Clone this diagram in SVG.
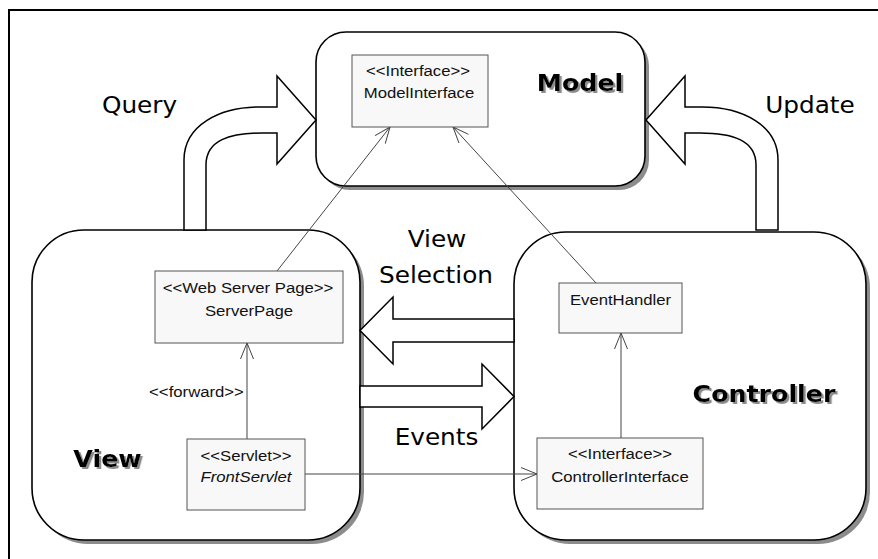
<svg xmlns="http://www.w3.org/2000/svg" width="878" height="559" viewBox="0 0 878 559">
<style>
.frame{fill:none;stroke:#000;stroke-width:2}
.shadow{fill:#8c8c8c;stroke:none}
.cont{fill:#fff;stroke:#000;stroke-width:1.6}
.cls{fill:#f8f8f8;stroke:#555;stroke-width:1}
.block{fill:#fff;stroke:#000;stroke-width:1.5;stroke-linejoin:miter}
.thin{fill:none;stroke:#444;stroke-width:1}
.sm{font-family:"Liberation Sans",Arial,sans-serif;font-size:15.2px;fill:#111;text-anchor:middle}
.it{font-style:italic}
.big{font-family:"DejaVu Sans",Verdana,sans-serif;font-size:22.5px;fill:#000;text-anchor:middle}
.bold{font-family:"DejaVu Sans",Verdana,sans-serif;font-size:23px;font-weight:bold;text-anchor:middle;fill:#000;filter:url(#ts)}
</style>
<defs>
<marker id="open" viewBox="0 0 18 14" refX="17" refY="7" markerWidth="18" markerHeight="14" markerUnits="userSpaceOnUse" orient="auto">
<path d="M1,0.5 L17,7 L1,13.5" fill="none" stroke="#444" stroke-width="1"/>
</marker>
<filter id="ts" x="-10%" y="-20%" width="130%" height="150%">
<feDropShadow dx="2" dy="2" stdDeviation="0.4" flood-color="#8c8c8c" flood-opacity="1"/>
</filter>
</defs>
<rect width="878" height="559" fill="#fff"/>
<path class="frame" d="M9,559 L9,10 L878,10"/>

<g id="model">
<rect class="shadow" x="320" y="36" width="329" height="154" rx="30"/>
<rect class="cont" x="316" y="32" width="329" height="154" rx="30"/>
<text class="bold" transform="translate(580,91) scale(1.1,1)">Model</text>
</g>
<g id="view">
<rect class="shadow" x="36" y="234" width="328" height="310" rx="52"/>
<rect class="cont" x="32" y="230" width="328" height="310" rx="52"/>
<text class="bold" transform="translate(107.5,467) scale(1.1,1)">View</text>
</g>
<g id="controller">
<rect class="shadow" x="518" y="236" width="352" height="308" rx="52"/>
<rect class="cont" x="514" y="232" width="352" height="308" rx="52"/>
<text class="bold" transform="translate(764,402) scale(1.1,1)">Controller</text>
</g>

<g id="connectors">
<path id="query" class="block" d="M184,230 L184,160 C184,125 220,107 260,107 L277,107 L277,76 L316,120 L277,164 L277,133 L262,133 C230,133 206,140 206,165 L206,230 Z"/>
<path id="update" class="block" d="M778,230 L778,160 C778,125 742,107 702,107 L685,107 L685,76 L646,120 L685,164 L685,133 L700,133 C732,133 756,140 756,165 L756,230 Z"/>
<path id="viewsel" class="block" d="M514,319 L393,319 L393,297 L360,330.5 L393,364 L393,342 L514,342 Z"/>
<path id="events" class="block" d="M360,386 L482,386 L482,364 L514,396.5 L482,429 L482,407 L360,407 Z"/>
<line class="thin" x1="277" y1="271" x2="390" y2="127" marker-end="url(#open)"/>
<line class="thin" x1="596" y1="283" x2="453" y2="127" marker-end="url(#open)"/>
<line class="thin" x1="247" y1="439" x2="247" y2="343" marker-end="url(#open)"/>
<line class="thin" x1="621" y1="438" x2="621" y2="333" marker-end="url(#open)"/>
<line class="thin" x1="305" y1="474" x2="537" y2="474" marker-end="url(#open)"/>
<text class="sm" transform="translate(196.5,397) scale(1.1,1)">&lt;&lt;forward&gt;&gt;</text>
<text class="big" transform="translate(139.5,113) scale(1.1,1)">Query</text>
<text class="big" transform="translate(810,113) scale(1.1,1)">Update</text>
<text class="big" transform="translate(437,247) scale(1.1,1)">View</text>
<text class="big" transform="translate(436,283) scale(1.1,1)">Selection</text>
<text class="big" transform="translate(436.5,445) scale(1.1,1)">Events</text>
</g>

<g id="modelinterface">
<rect class="cls" x="352" y="55" width="136" height="72"/>
<text class="sm" transform="translate(418,76) scale(1.1,1)">&lt;&lt;Interface&gt;&gt;</text>
<text class="sm" transform="translate(419,98) scale(1.1,1)">ModelInterface</text>
</g>
<g id="serverpage">
<rect class="cls" x="155" y="271" width="188" height="72"/>
<text class="sm" transform="translate(248,293) scale(1.1,1)">&lt;&lt;Web Server Page&gt;&gt;</text>
<text class="sm" transform="translate(249,316) scale(1.1,1)">ServerPage</text>
</g>
<g id="frontservlet">
<rect class="cls" x="187" y="439" width="118" height="71"/>
<text class="sm" transform="translate(246,461) scale(1.1,1)">&lt;&lt;Servlet&gt;&gt;</text>
<text class="sm it" transform="translate(246,482) scale(1.1,1)">FrontServlet</text>
</g>
<g id="eventhandler">
<rect class="cls" x="559" y="283" width="123" height="50"/>
<text class="sm" transform="translate(620.5,305) scale(1.1,1)">EventHandler</text>
</g>
<g id="controllerinterface">
<rect class="cls" x="537" y="438" width="166" height="71"/>
<text class="sm" transform="translate(620,459) scale(1.1,1)">&lt;&lt;Interface&gt;&gt;</text>
<text class="sm" transform="translate(620,482) scale(1.1,1)">ControllerInterface</text>
</g>
</svg>
